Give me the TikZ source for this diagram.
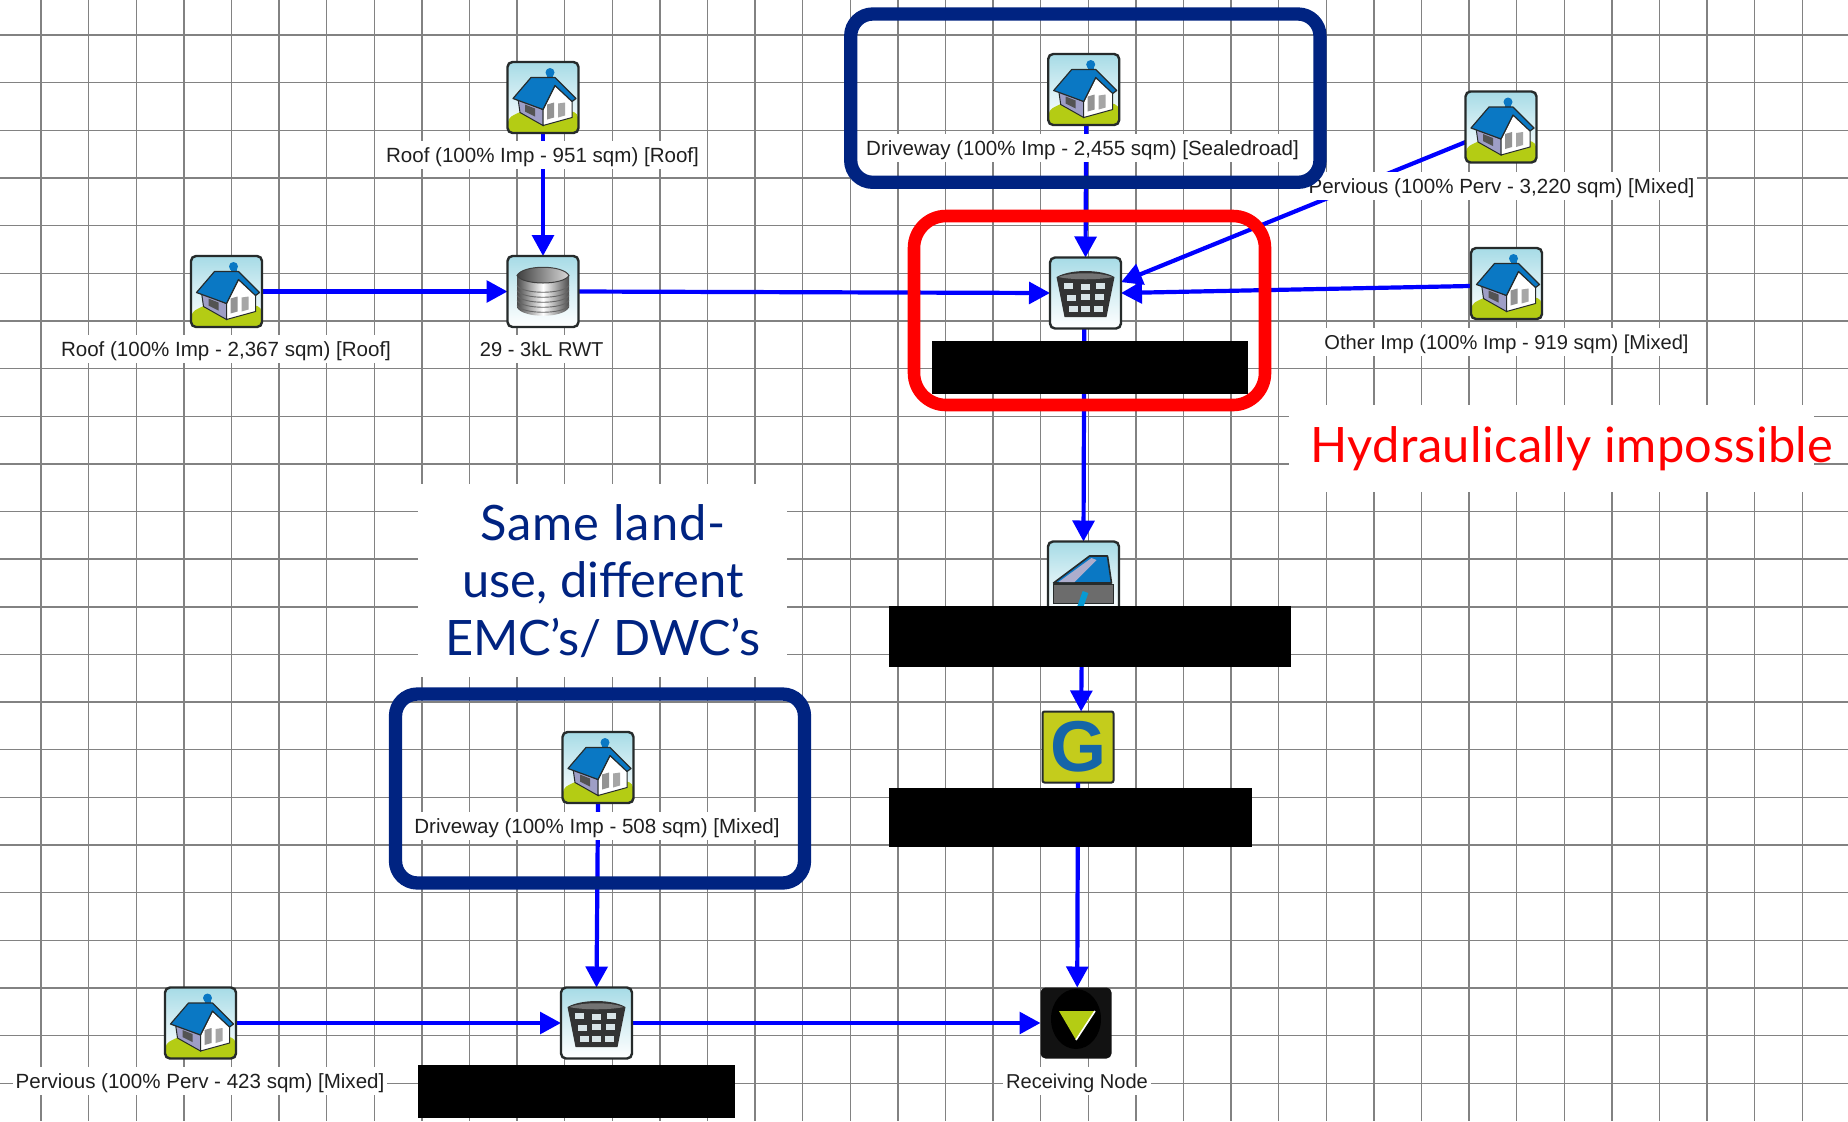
\documentclass[tikz,border=0pt]{standalone}
\usepackage{fontspec}
\setmainfont{Liberation Sans}
\newfontfamily\callout{Lato}
\newfontfamily\calloutwide[LetterSpace=2.2]{Lato}
\newfontfamily\calloutslim[LetterSpace=-1.3]{Lato}
\newfontfamily\calloutred[LetterSpace=0.8]{Lato}
\usetikzlibrary{arrows.meta}
\definecolor{gridc}{HTML}{828282}
\definecolor{flowc}{HTML}{0000FF}
\definecolor{navyc}{HTML}{002381}
\definecolor{redc}{HTML}{FF0000}
\definecolor{skyc}{HTML}{A6DBE6}
\definecolor{grassc}{HTML}{B4CC14}
\definecolor{roofc}{HTML}{0A78C4}
\definecolor{edgec}{HTML}{262B2B}
\definecolor{gyellow}{HTML}{C4CC1C}
\definecolor{gblue}{HTML}{1565A8}
\tikzset{
  x=0.5pt,y=-0.5pt,
  gridl/.style={draw=gridc,line width=0.7pt},
  flow/.style={draw=flowc,line width=2.1pt,-{Triangle[length=10.5pt,width=10.8pt]}},
  iconbox/.style={minimum size=35.5pt,inner sep=0pt,outer sep=0pt,rounded corners=2.5pt,
    top color=skyc,bottom color=white,middle color=white!55!skyc},
  lab/.style={fill=white,inner xsep=1.5pt,inner ysep=0pt,outer sep=0pt,text=black!88,
    font=\fontsize{10.27}{12}\selectfont,text height=8pt,text depth=0.7pt,minimum height=14pt},
  labsmall/.style={lab,font=\fontsize{10.05}{12}\selectfont},
  hide/.style={fill=black,inner sep=0pt,outer sep=0pt},
  navybox/.style={draw=navyc,line width=6.65pt,rounded corners=11pt,inner sep=0pt,outer sep=0pt},
  redbox/.style={draw=redc,line width=6.3pt,rounded corners=16pt,inner sep=0pt,outer sep=0pt,
    minimum width=175.5pt,minimum height=94.5pt},
  whitebox/.style={fill=white,inner sep=0pt,outer sep=0pt},
  frame/.pic={\draw[edgec,line width=1.2pt,rounded corners=2.5pt] (-35.5,-35.5) rectangle (35.5,35.5);},
  housepic/.pic={
    \fill[grassc,rounded corners=2pt] (-35,21) .. controls (-22,13) and (-12,11) .. (0,12)
       .. controls (14,12) and (26,13) .. (35,16) -- (35,35) -- (-35,35) -- cycle;
    \fill[roofc] (7,-25) circle (4.5);
    \fill[roofc] (4,-23) rectangle (10,-16);
    \fill[white!72!blue!55!gray,draw=edgec,line width=.5pt] (-25,1) -- (0,12) -- (0,28) -- (-23,15) -- cycle;
    \fill[white,draw=edgec,line width=.5pt] (0,12) -- (12,-12) -- (29,3) -- (29,20) -- (0,28) -- cycle;
    \fill[gray!65!black] (-18,7) -- (-8,11) -- (-8,19) -- (-18,14) -- cycle;
    \fill[gray!85] (4,7) -- (11,5) -- (11,20) -- (4,22) -- cycle;
    \fill[gray!70] (15,6) -- (22,5) -- (22,18) -- (15,20) -- cycle;
    \fill[roofc,draw=edgec,line width=.6pt,line join=round] (-30,1) -- (-12,-20) -- (12,-20) -- (33,1) -- (29,4)
       -- (12,-12) -- (0,12) -- cycle;
    \pic {frame};
  },
  tankpic/.pic={
    \shade[left color=black!70,right color=black!70,middle color=white]
      (-26,-16) -- (-26,16) .. controls (-20,27) and (20,27) .. (26,16) -- (26,-16)
      .. controls (20,-27) and (-20,-27) .. (-26,-16) -- cycle;
    \foreach \r in {-6,-1,...,14}{
      \draw[black!60,line width=.45pt] (-26,\r) .. controls (-20,{\r+9}) and (20,{\r+9}) .. (26,\r);
    }
    \shade[left color=black!75,right color=black!15] (-26,-16) .. controls (-20,-27) and (20,-27) .. (26,-16)
      .. controls (20,-6) and (-20,-6) .. (-26,-16) -- cycle;
    \draw[black!75,line width=.5pt] (-26,-16) .. controls (-20,-27) and (20,-27) .. (26,-16)
      .. controls (20,-6) and (-20,-6) .. (-26,-16) -- cycle;
    \pic {frame};
  },
  basketpic/.pic={
    \fill[black!80] (-29,-16) .. controls (-15,-24) and (15,-24) .. (29,-16) -- (21,24) -- (-21,24) -- cycle;
    \fill[black!55] (-27,-16) .. controls (-15,-21) and (15,-21) .. (27,-16)
       .. controls (15,-13) and (-15,-13) .. (-27,-16) -- cycle;
    \foreach \cx/\cy in {-17/-7,0/-6,15/-7,-14/5,0/4,14/4,-12/16,0/16,13/16}{
      \fill[white!75!skyc!85!gray] ({\cx-4.5},{\cy-3}) rectangle ({\cx+4.5},{\cy+3});
    }
    \pic {frame};
  },
  wedgepic/.pic={
    \fill[gray!85!black,draw=edgec,line width=.5pt] (-30,7) rectangle (30,26);
    \fill[roofc,draw=edgec,line width=.8pt,line join=round] (-30,6) -- (6,-21) -- (24,-21) -- (28,6) -- cycle;
    \fill[white!80!blue!60!gray] (-25,5) -- (8,-19) -- (13,-17) -- (-9,5) -- cycle;
    \draw[roofc!75!cyan,line width=3pt] (2,15) -- (-4,32);
    \pic {frame};
  },
  recvpic/.pic={
    \fill[black] (0,-4) ellipse (25 and 30);
    \fill[grassc] (-17,-12) -- (19,-12) -- (0,17) -- cycle;
    \draw[white,line width=.8pt] (19,-12) -- (0,17);
  },
}
\begin{document}
\begin{tikzpicture}
\useasboundingbox (0,0) rectangle (1848,1121);
\fill[white] (0,0) rectangle (1848,1121);
% grid
\foreach \k in {0,...,37}{\draw[gridl] ({41+47.6*\k},0) -- ({41+47.6*\k},1121);}
\foreach \k in {0,...,22}{\draw[gridl] (0,{35+47.65*\k}) -- (1848,{35+47.65*\k});}
% callout backgrounds
\node[whitebox,minimum width=184.5pt,minimum height=96.5pt] (sameback) at (602.2,580.5) {};
\node[whitebox,minimum width=262.5pt,minimum height=43.5pt] (hydback) at (1551.5,448.5) {};
% icons
\node[iconbox] (roofa) at (543,97.5) {};
\node[iconbox] (roofb) at (226.5,291.5) {};
\node[iconbox] (tank) at (543,291.5) {};
\node[iconbox] (drvtop) at (1083.7,89.5) {};
\node[iconbox] (pervtop) at (1501,127) {};
\node[iconbox] (other) at (1506.5,283.5) {};
\node[iconbox] (gpta) at (1085.5,293) {};
\node[iconbox] (wedge) at (1083.5,577) {};
\node[minimum size=35.5pt,inner sep=0pt,outer sep=0pt,rounded corners=1pt,fill=gyellow,draw=edgec,line width=1pt,
  text=gblue,font=\fontsize{36}{36}\bfseries\selectfont] (gnode) at (1078,747) {G};
\node[iconbox] (drvlow) at (598,767.5) {};
\node[iconbox] (gptb) at (596.5,1023) {};
\node[iconbox] (pervlow) at (200.5,1023) {};
\node[minimum size=35.5pt,inner sep=0pt,outer sep=0pt,rounded corners=2.5pt,fill=black!93] (recv) at (1076,1023) {};
% connectors
\draw[flow] (roofa.south) -- (tank.north);
\draw[flow] (roofb.east) -- (tank.west);
\draw[flow] (tank.east) -- (gpta.west);
\draw[flow] (drvtop.-86) -- (gpta.north);
\draw[flow] (pervtop.203) -- (gpta.17);
\draw[flow] (other.184) -- (gpta.east);
\draw[flow] (gpta.-92) -- (wedge.north);
\draw[flow] (wedge.-92) -- (gnode.85);
\draw[flow] (gnode.south) -- (recv.88);
\draw[flow] (drvlow.south) -- (gptb.north);
\draw[flow] (pervlow.east) -- (gptb.west);
\draw[flow] (gptb.east) -- (recv.west);
% icon art
\pic at (roofa) {housepic};
\pic at (roofb) {housepic};
\pic at (drvtop) {housepic};
\pic at (pervtop) {housepic};
\pic at (other) {housepic};
\pic at (drvlow) {housepic};
\pic at (pervlow) {housepic};
\pic at (tank) {tankpic};
\pic at (gpta) {basketpic};
\pic at (gptb) {basketpic};
\pic at (wedge) {wedgepic};
\pic at (recv) {recvpic};
% labels
\node[lab] (laba) at (542.5,155) {Roof (100\% Imp - 951 sqm) [Roof]};
\node[lab] (labb) at (226,349) {Roof (100\% Imp - 2,367 sqm) [Roof]};
\node[labsmall] (labc) at (541.7,349) {29 - 3kL RWT};
\node[lab] (labd) at (1082.5,147.7) {Driveway (100\% Imp - 2,455 sqm) [Sealedroad]};
\node[lab] (labe) at (1501.5,186) {Pervious (100\% Perv - 3,220 sqm) [Mixed]};
\node[labsmall] (labf) at (1506.5,341.7) {Other Imp (100\% Imp - 919 sqm) [Mixed]};
\node[lab] (labg) at (597,825.7) {Driveway (100\% Imp - 508 sqm) [Mixed]};
\node[lab] (labh) at (200,1081) {Pervious (100\% Perv - 423 sqm) [Mixed]};
\node[labsmall] (labi) at (1077,1080.7) {Receiving Node};
% redactions
\node[hide,minimum width=158pt,minimum height=26.5pt] (blacka) at (1090,367.5) {};
\node[hide,minimum width=200.75pt,minimum height=30.35pt] (blackb) at (1089.75,636.35) {};
\node[hide,minimum width=181.5pt,minimum height=29.85pt] (blackc) at (1070.5,817.55) {};
\node[hide,minimum width=158.5pt,minimum height=26.35pt] (blackd) at (576.5,1091.35) {};
% highlight frames
\node[redbox] (redframe) at (1089.5,310.5) {};
\node[navybox,minimum width=234.65pt,minimum height=84.15pt] (navytop) at (1085.35,98.15) {};
\node[navybox,minimum width=204.5pt,minimum height=94.5pt] (navylow) at (600,788.5) {};
% callouts
\node[text=navyc,align=center,inner sep=0pt,font=\callout\fontsize{24.4}{28.9}\selectfont] (same) at (603,581) {{\calloutwide Same land-}\\use, different\\{\calloutslim EMC’s/ DWC’s}};
\node[text=redc,inner sep=0pt,font=\calloutred\fontsize{24.4}{28.9}\selectfont] (hyd) at (1572,449) {Hydraulically impossible};
\end{tikzpicture}
\end{document}
